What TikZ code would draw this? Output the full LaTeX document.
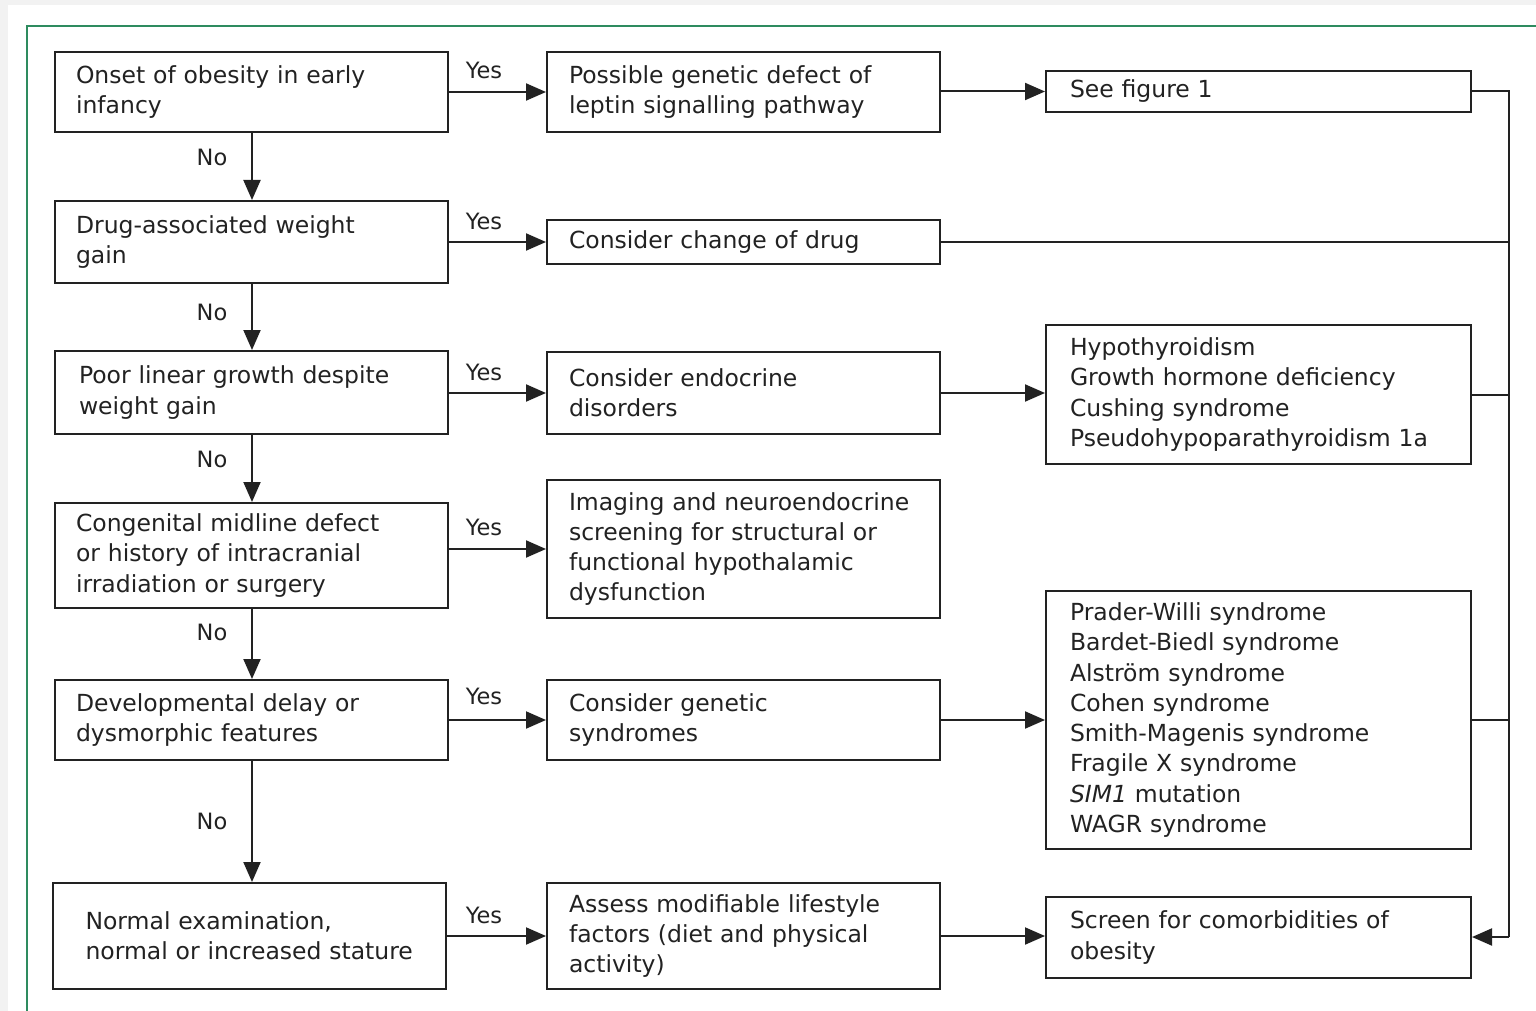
\documentclass[tikz,border=0pt]{standalone}
\usepackage{fontspec}
\setmainfont{DejaVu Sans}
\usetikzlibrary{arrows.meta,calc}
\definecolor{framegreen}{HTML}{2E8B5F}
\definecolor{outgray}{HTML}{F2F2F2}
\definecolor{ink}{HTML}{222222}
\begin{document}
\begin{tikzpicture}[x=1pt,y=-1pt,
  box/.style={draw=ink,line width=2pt,anchor=north west,align=left,inner ysep=0pt,
    font=\fontsize{23.5}{30.3}\selectfont,text=ink},
  lbl/.style={font=\fontsize{22.5}{25}\selectfont,text=ink,inner sep=0pt},
  arr/.style={draw=ink,line width=2pt,-{Triangle[length=20pt,width=17pt]}},
  ln/.style={draw=ink,line width=2pt}]
\useasboundingbox (0,0) rectangle (1536,1011);
\fill[outgray] (0,0) rectangle (1536,1011);
\fill[white] (8,5) rectangle (1536,1011);
\draw[framegreen,line width=2.5pt] (27,1015) -- (27,26) -- (1540,26);
% left column
\node[box,inner xsep=21pt,minimum width=393pt,minimum height=80pt,text width=351pt] (L1) at (54,51) {Onset of obesity in early\\infancy};
\node[box,inner xsep=21pt,minimum width=393pt,minimum height=82pt,text width=351pt] (L2) at (54,200) {Drug-associated weight\\gain};
\node[box,inner xsep=24pt,minimum width=393pt,minimum height=83pt,text width=345pt] (L3) at (54,350) {Poor linear growth despite\\weight gain};
\node[box,inner xsep=21pt,minimum width=393pt,minimum height=105pt,text width=351pt] (L4) at (54,502) {Congenital midline defect\\or history of intracranial\\irradiation or surgery};
\node[box,inner xsep=21pt,minimum width=393pt,minimum height=80pt,text width=351pt] (L5) at (54,679) {Developmental delay or\\dysmorphic features};
\node[box,inner xsep=16.5pt,minimum width=393pt,minimum height=106pt,text width=360pt] (L6) at (52,882) {\hspace*{16pt}Normal examination,\\\hspace*{16pt}normal or increased stature};
% middle column
\node[box,inner xsep=22pt,minimum width=393pt,minimum height=80pt,text width=349pt] (M1) at (546,51) {Possible genetic defect of\\leptin signalling pathway};
\node[box,inner xsep=22pt,minimum width=393pt,minimum height=44pt,text width=349pt] (M2) at (546,219) {Consider change of drug};
\node[box,inner xsep=22pt,minimum width=393pt,minimum height=82pt,text width=349pt] (M3) at (546,351) {Consider endocrine\\disorders};
\node[box,inner xsep=22pt,minimum width=393pt,minimum height=138pt,text width=349pt] (M4) at (546,479) {Imaging and neuroendocrine\\screening for structural or\\functional hypothalamic\\dysfunction};
\node[box,inner xsep=22pt,minimum width=393pt,minimum height=80pt,text width=349pt] (M5) at (546,679) {Consider genetic\\syndromes};
\node[box,inner xsep=22pt,minimum width=393pt,minimum height=106pt,text width=349pt] (M6) at (546,882) {Assess modifiable lifestyle\\factors (diet and physical\\activity)};
% right column
\node[box,inner xsep=24pt,minimum width=425pt,minimum height=41pt,text width=377pt] (R1) at (1045,70) {See figure 1};
\node[box,inner xsep=24pt,minimum width=425pt,minimum height=139pt,text width=377pt] (R3) at (1045,324) {Hypothyroidism\\Growth hormone deficiency\\Cushing syndrome\\Pseudohypoparathyroidism 1a};
\node[box,inner xsep=24pt,minimum width=425pt,minimum height=258pt,text width=377pt] (R5) at (1045,590) {Prader-Willi syndrome\\Bardet-Biedl syndrome\\Alström syndrome\\Cohen syndrome\\Smith-Magenis syndrome\\Fragile X syndrome\\\textit{SIM1} mutation\\WAGR syndrome};
\node[box,inner xsep=24pt,minimum width=425pt,minimum height=81pt,text width=377pt] (R6) at (1045,896) {Screen for comorbidities of\\obesity};
% No arrows
\draw[arr] (L1.south -| 252,0) -- (L2.north -| 252,0);
\draw[arr] (L2.south -| 252,0) -- (L3.north -| 252,0);
\draw[arr] (L3.south -| 252,0) -- (L4.north -| 252,0);
\draw[arr] (L4.south -| 252,0) -- (L5.north -| 252,0);
\draw[arr] (L5.south -| 252,0) -- (L6.north -| 252,0);
\node[lbl] (n1) at (212,157) {No};
\node[lbl] (n2) at (212,312) {No};
\node[lbl] (n3) at (212,459) {No};
\node[lbl] (n4) at (212,632) {No};
\node[lbl] (n5) at (212,821) {No};
% Yes arrows
\draw[arr] (L1.east |- M1.west) -- (M1.west);
\draw[arr] (L2.east |- M2.west) -- (M2.west);
\draw[arr] (L3.east |- M3.west) -- (M3.west);
\draw[arr] (L4.east |- M4.west) -- (M4.west);
\draw[arr] (L5.east |- M5.west) -- (M5.west);
\draw[arr] (L6.east |- M6.west) -- (M6.west);
\node[lbl] (y1) at (484,70) {Yes};
\node[lbl] (y2) at (484,221) {Yes};
\node[lbl] (y3) at (484,372) {Yes};
\node[lbl] (y4) at (484,527) {Yes};
\node[lbl] (y5) at (484,696) {Yes};
\node[lbl] (y6) at (484,915) {Yes};
% middle to right
\draw[arr] (M1.east |- R1.west) -- (R1.west);
\draw[arr] (M3.east) -- (R3.west |- M3.east);
\draw[arr] (M5.east) -- (R5.west |- M5.east);
\draw[arr] (M6.east) -- (R6.west |- M6.east);
% right bus
\coordinate (bt) at (1509,91);
\coordinate (bb) at (1509,937);
\draw[ln] (R1.east) -- (R1.east -| bt) -- (bb);
\draw[arr] (bb) -- (bb -| R6.east);
\draw[ln] (M2.east) -- (M2.east -| bt);
\draw[ln] (R3.east) -- (R3.east -| bt);
\draw[ln] (R5.east) -- (R5.east -| bt);
\end{tikzpicture}
\end{document}
